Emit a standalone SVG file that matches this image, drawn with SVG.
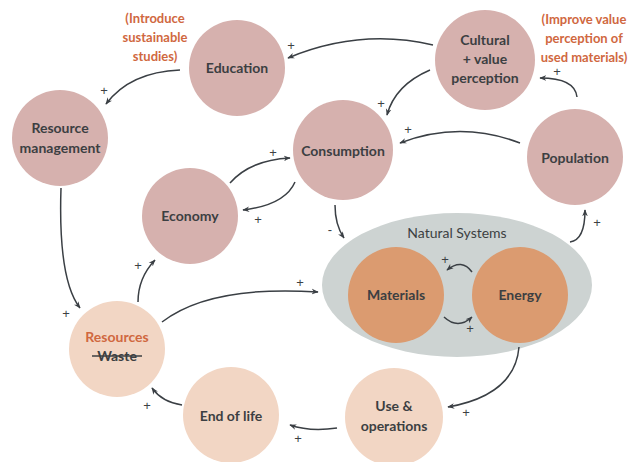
<svg xmlns="http://www.w3.org/2000/svg" width="634" height="462" viewBox="0 0 634 462">
<defs>
<marker id="ah" viewBox="0 0 10 10" refX="9" refY="5" markerWidth="7" markerHeight="7" orient="auto" markerUnits="userSpaceOnUse">
<path d="M0,1 L10,5 L0,9 L3,5 Z" fill="#3a3f44"/>
</marker>
<style>
.mauve{fill:#d6b1ae}
.peach{fill:#f2d6c4}
.orange{fill:#db9b70}
.grey{fill:#cdd3d2}
.lbl{font-family:Lato,"Open Sans","Liberation Sans",sans-serif;font-weight:700;font-size:14px;fill:#3c3f42;text-anchor:middle}
.note{font-family:Lato,"Open Sans","Liberation Sans",sans-serif;font-weight:700;font-size:13px;fill:#d0683f;text-anchor:middle}
.ns{font-family:Lato,"Open Sans","Liberation Sans",sans-serif;font-weight:400;font-size:14px;fill:#3c3f42;text-anchor:middle}
.sign{font-family:"Liberation Sans",sans-serif;font-weight:400;font-size:13px;fill:#3c3f42;text-anchor:middle}
.c{fill:none;stroke:#3a3f44;stroke-width:1.5;marker-end:url(#ah)}
</style>
</defs>
<rect width="634" height="462" fill="#ffffff"/>

<g id="natural-systems">
<ellipse class="grey" cx="457" cy="285" rx="135" ry="72"/>
<text class="ns" x="457" y="238">Natural Systems</text>
</g>
<g id="materials">
<circle class="orange" cx="396" cy="295" r="48"/>
<text class="lbl" x="396" y="300">Materials</text>
</g>
<g id="energy">
<circle class="orange" cx="520" cy="295" r="48"/>
<text class="lbl" x="520" y="300">Energy</text>
</g>
<g id="education">
<circle class="mauve" cx="237" cy="68" r="48"/>
<text class="lbl" x="237" y="73">Education</text>
</g>
<g id="cultural">
<circle class="mauve" cx="485" cy="60" r="50"/>
<text class="lbl" x="485" y="45">Cultural</text>
<text class="lbl" x="485" y="64">+ value</text>
<text class="lbl" x="485" y="83">perception</text>
</g>
<g id="resource-management">
<circle class="mauve" cx="60" cy="138" r="48"/>
<text class="lbl" x="60" y="133">Resource</text>
<text class="lbl" x="60" y="153">management</text>
</g>
<g id="consumption">
<circle class="mauve" cx="343" cy="150" r="50"/>
<text class="lbl" x="343" y="156">Consumption</text>
</g>
<g id="population">
<circle class="mauve" cx="575" cy="157" r="48"/>
<text class="lbl" x="575" y="163">Population</text>
</g>
<g id="economy">
<circle class="mauve" cx="190" cy="216" r="48"/>
<text class="lbl" x="190" y="221">Economy</text>
</g>
<g id="resources-waste">
<circle class="peach" cx="117" cy="349" r="48"/>
<text class="lbl" x="117" y="342" style="fill:#d0683f">Resources</text>
<text class="lbl" x="117" y="361">Waste</text>
<line x1="92" y1="356" x2="142" y2="356" stroke="#3c3f42" stroke-width="1.3"/>
</g>
<g id="end-of-life">
<circle class="peach" cx="231" cy="415" r="48"/>
<text class="lbl" x="231" y="421">End of life</text>
</g>
<g id="use-operations">
<circle class="peach" cx="394" cy="417" r="49"/>
<text class="lbl" x="394" y="411">Use &amp;</text>
<text class="lbl" x="394" y="431">operations</text>
</g>

<g id="notes">
<text class="note" x="155" y="23">(Introduce</text>
<text class="note" x="155" y="42">sustainable</text>
<text class="note" x="155" y="61">studies)</text>
<text class="note" x="584" y="24">(Improve value</text>
<text class="note" x="584" y="43">perception of</text>
<text class="note" x="584" y="62">used materials)</text>
</g>

<g id="connectors">
<path class="c" d="M433,45 Q360,28 288,58"/>
<path class="c" d="M180,70 Q130,72 106,104"/>
<path class="c" d="M430,70 Q395,85 387,115"/>
<path class="c" d="M577,97 Q575,78 540,78"/>
<path class="c" d="M520,143 Q460,120 400,143"/>
<path class="c" d="M230,183 Q250,160 290,158"/>
<path class="c" d="M295,182 Q285,205 243,210"/>
<path class="c" d="M335,205 Q335,225 344,238"/>
<path class="c" d="M570,242 Q585,240 585,210"/>
<path class="c" d="M61,188 Q58,280 80,308"/>
<path class="c" d="M138,302 Q138,278 155,260"/>
<path class="c" d="M162,322 Q210,285 318,292"/>
<path class="c" d="M182,405 Q162,402 152,388"/>
<path class="c" d="M337,428 Q310,432 290,425"/>
<path class="c" d="M519,347 Q515,395 448,407"/>
<path class="c" d="M472,272 Q462,258 447,270"/>
<path class="c" d="M444,317 Q458,330 472,317"/>
</g>

<g id="signs" opacity="0.99">
<text class="sign" x="291" y="50">+</text>
<text class="sign" x="104" y="95">+</text>
<text class="sign" x="381" y="108">+</text>
<text class="sign" x="557" y="76">+</text>
<text class="sign" x="408" y="134">+</text>
<text class="sign" x="273" y="157">+</text>
<text class="sign" x="258" y="224">+</text>
<text class="sign" x="330" y="234">-</text>
<text class="sign" x="597" y="227">+</text>
<text class="sign" x="66" y="318">+</text>
<text class="sign" x="138" y="270">+</text>
<text class="sign" x="300" y="287">+</text>
<text class="sign" x="147" y="410">+</text>
<text class="sign" x="298" y="443">+</text>
<text class="sign" x="466" y="417">+</text>
<text class="sign" x="445" y="264">+</text>
<text class="sign" x="470" y="333">+</text>
</g>
</svg>
